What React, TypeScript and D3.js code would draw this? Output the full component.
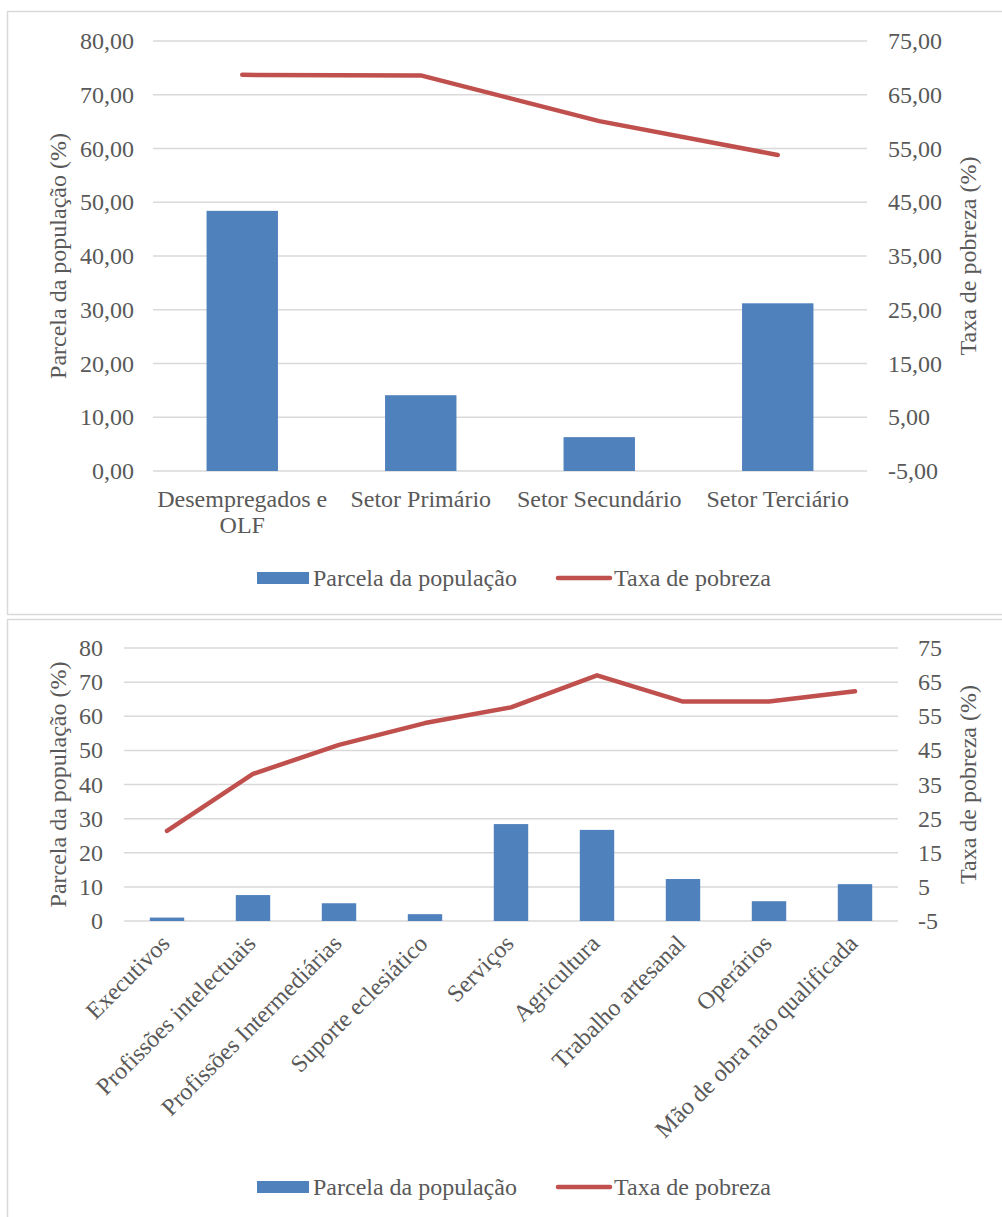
import React from "react";
import * as d3 from "d3";

const topCategories = [["Desempregados e", "OLF"], ["Setor Primário"], ["Setor Secundário"], ["Setor Terciário"]];
const topShare = [48.4, 14.1, 6.3, 31.2];
const topPoverty = [68.7, 68.6, 60.1, 53.8];
const topLeftTicks = [0, 10, 20, 30, 40, 50, 60, 70, 80];
const topRightTicks = [-5, 5, 15, 25, 35, 45, 55, 65, 75];

const botCategories = ["Executivos", "Profissões intelectuais", "Profissões Intermediárias", "Suporte eclesiático", "Serviços", "Agricultura", "Trabalho artesanal", "Operários", "Mão de obra não qualificada"];
const botShare = [1.0, 7.6, 5.2, 2.0, 28.4, 26.7, 12.3, 5.8, 10.8];
const botPoverty = [21.4, 38.1, 46.6, 53.0, 57.6, 67.0, 59.3, 59.3, 62.3];
const botLeftTicks = [0, 10, 20, 30, 40, 50, 60, 70, 80];
const botRightTicks = [-5, 5, 15, 25, 35, 45, 55, 65, 75];

const seriesNames = ["Parcela da população", "Taxa de pobreza"];
const axisTitles = ["Parcela da população (%)", "Taxa de pobreza (%)"];

const BAR = "#4F81BD";
const LINE = "#C0504D";
const TXT = "#595959";
const GRID = "#D9D9D9";
const FONT = "'Liberation Serif', 'Times New Roman', serif";
const FS = 24;

const fmt2 = (v: number) => v.toFixed(2).replace(".", ",");

function Legend({ y }: { y: number }) {
  return (
    <g>
      <rect x={257} y={y - 6} width={52} height={12} fill={BAR} />
      <text x={313} y={y + 8} fontSize={FS} fill={TXT}>{seriesNames[0]}</text>
      <line x1={558} x2={610} y1={y} y2={y} stroke={LINE} strokeWidth={4.5} strokeLinecap="round" />
      <text x={614} y={y + 8} fontSize={FS} fill={TXT}>{seriesNames[1]}</text>
    </g>
  );
}

function TopChart() {
  const x0 = 153, x1 = 867, yTop = 41, yBot = 471;
  const x = d3.scaleBand().domain(topCategories.map((c) => c.join(" "))).range([x0, x1]);
  const yL = d3.scaleLinear().domain([0, 80]).range([yBot, yTop]);
  const yR = d3.scaleLinear().domain([-5, 75]).range([yBot, yTop]);
  const bw = x.bandwidth() * 0.4;
  const cx = (i: number) => (x(topCategories[i].join(" ")) as number) + x.bandwidth() / 2;
  const line = d3.line<number>().x((_, i) => cx(i)).y((d) => yR(d));
  const midY = (yTop + yBot) / 2;
  return (
    <g>
      {topLeftTicks.map((t) => (
        <line key={"g" + t} x1={x0} x2={x1} y1={yL(t)} y2={yL(t)} stroke={GRID} strokeWidth={1.5} />
      ))}
      {topLeftTicks.map((t) => (
        <text key={"l" + t} x={134} y={yL(t) + 8} textAnchor="end" fontSize={FS} fill={TXT}>{fmt2(t)}</text>
      ))}
      {topRightTicks.map((t) => (
        <text key={"r" + t} x={888} y={yR(t) + 8} textAnchor="start" fontSize={FS} fill={TXT}>{fmt2(t)}</text>
      ))}
      {topShare.map((v, i) => (
        <rect key={"b" + i} x={cx(i) - bw / 2} y={yL(v)} width={bw} height={yL(0) - yL(v)} fill={BAR} />
      ))}
      <path d={line(topPoverty) || ""} fill="none" stroke={LINE} strokeWidth={4.5} strokeLinecap="round" strokeLinejoin="round" />
      {topCategories.map((c, i) => (
        <text key={"c" + i} x={cx(i)} y={507} textAnchor="middle" fontSize={FS} fill={TXT}>
          {c.map((ln, j) => (
            <tspan key={j} x={cx(i)} dy={j === 0 ? 0 : 26}>{ln}</tspan>
          ))}
        </text>
      ))}
      <text transform={`translate(66,${midY}) rotate(-90)`} textAnchor="middle" fontSize={FS} fill={TXT}>{axisTitles[0]}</text>
      <text transform={`translate(976,${midY}) rotate(-90)`} textAnchor="middle" fontSize={FS} fill={TXT}>{axisTitles[1]}</text>
      <Legend y={578} />
    </g>
  );
}

function BottomChart() {
  const x0 = 124, x1 = 898, yTop = 648, yBot = 921;
  const x = d3.scaleBand().domain(botCategories).range([x0, x1]);
  const yL = d3.scaleLinear().domain([0, 80]).range([yBot, yTop]);
  const yR = d3.scaleLinear().domain([-5, 75]).range([yBot, yTop]);
  const bw = x.bandwidth() * 0.4;
  const cx = (i: number) => (x(botCategories[i]) as number) + x.bandwidth() / 2;
  const line = d3.line<number>().x((_, i) => cx(i)).y((d) => yR(d));
  const midY = (yTop + yBot) / 2;
  return (
    <g>
      {botLeftTicks.map((t) => (
        <line key={"g" + t} x1={x0} x2={x1} y1={yL(t)} y2={yL(t)} stroke={GRID} strokeWidth={1.5} />
      ))}
      {botLeftTicks.map((t) => (
        <text key={"l" + t} x={103} y={yL(t) + 8} textAnchor="end" fontSize={FS} fill={TXT}>{String(t)}</text>
      ))}
      {botRightTicks.map((t) => (
        <text key={"r" + t} x={918} y={yR(t) + 8} textAnchor="start" fontSize={FS} fill={TXT}>{String(t)}</text>
      ))}
      {botShare.map((v, i) => (
        <rect key={"b" + i} x={cx(i) - bw / 2} y={yL(v)} width={bw} height={yL(0) - yL(v)} fill={BAR} />
      ))}
      <path d={line(botPoverty) || ""} fill="none" stroke={LINE} strokeWidth={4.5} strokeLinecap="round" strokeLinejoin="round" />
      {botCategories.map((c, i) => (
        <text key={"c" + i} transform={`translate(${cx(i) + 4},${yBot + 24}) rotate(-45)`} textAnchor="end" fontSize={FS} fill={TXT}>{c}</text>
      ))}
      <text transform={`translate(66,${midY}) rotate(-90)`} textAnchor="middle" fontSize={FS} fill={TXT}>{axisTitles[0]}</text>
      <text transform={`translate(976,${midY}) rotate(-90)`} textAnchor="middle" fontSize={FS} fill={TXT}>{axisTitles[1]}</text>
      <Legend y={1187} />
    </g>
  );
}

export default function App() {
  return (
    <svg width={1002} height={1217} style={{ position: "absolute", left: 0, top: 0, background: "#fff" }} fontFamily={FONT}>
      <rect x={0} y={0} width={1002} height={1217} fill="#fff" />
      <rect x={7.5} y={11.5} width={1010} height={603} fill="none" stroke={GRID} strokeWidth={1.5} />
      <rect x={7.5} y={619.5} width={1010} height={610} fill="none" stroke={GRID} strokeWidth={1.5} />
      <TopChart />
      <BottomChart />
    </svg>
  );
}
